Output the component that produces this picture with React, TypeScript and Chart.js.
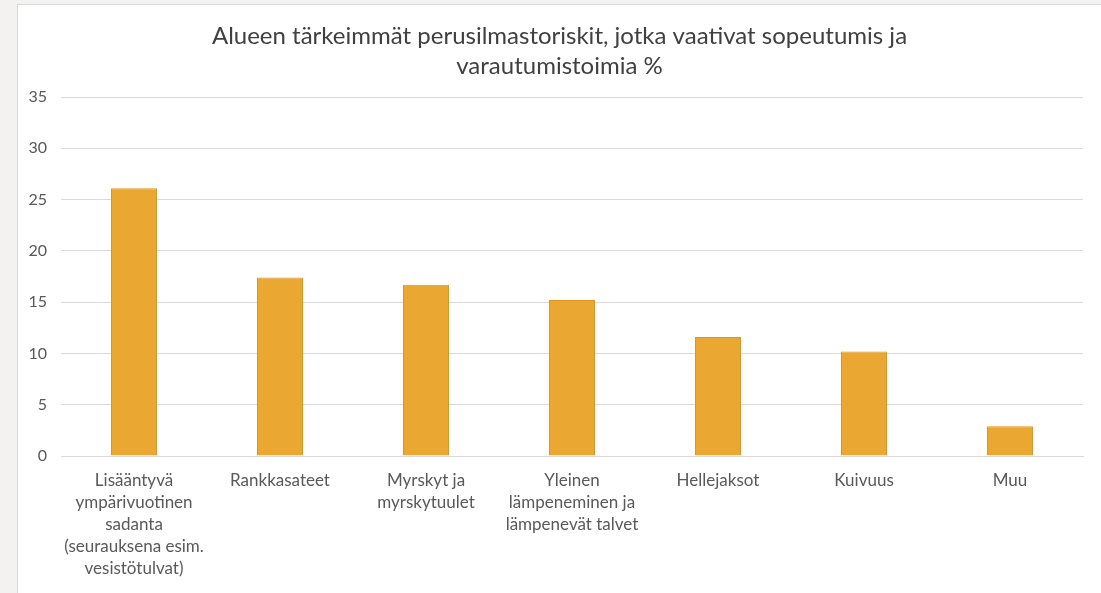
import React, { useEffect, useRef } from "react";
import { Chart, registerables } from "chart.js";

Chart.register(...registerables);

const titleLines = [
  "Alueen tärkeimmät perusilmastoriskit, jotka vaativat sopeutumis ja",
  "varautumistoimia %",
];

const categories: (string | string[])[] = [
  ["Lisääntyvä", "ympärivuotinen", "sadanta", "(seurauksena esim.", "vesistötulvat)"],
  "Rankkasateet",
  ["Myrskyt ja", "myrskytuulet"],
  ["Yleinen", "lämpeneminen ja", "lämpenevät talvet"],
  "Hellejaksot",
  "Kuivuus",
  "Muu",
];

const values = [26.1, 17.4, 16.7, 15.2, 11.6, 10.2, 2.9];

const yMin = 0;
const yMax = 35;
const yStep = 5;

const shiftTitle = {
  id: "shiftTitle",
  afterLayout(chart: any) {
    const t = chart.titleBlock;
    if (t) {
      t.left = 18;
    }
  },
};

export default function App() {
  const ref = useRef<HTMLCanvasElement | null>(null);

  useEffect(() => {
    document.body.style.margin = "0";
    if (!ref.current) return;
    const chart = new Chart(ref.current, {
      type: "bar",
      data: {
        labels: categories,
        datasets: [
          {
            data: values,
            backgroundColor: "#EAA731",
            borderColor: "#E0961C",
            borderWidth: 1,
            categoryPercentage: 1,
            barPercentage: 0.315,
          },
        ],
      },
      options: {
        animation: false,
        responsive: false,
        maintainAspectRatio: false,
        layout: { padding: { left: 0, right: 18, top: 0, bottom: 0 } },
        plugins: {
          legend: { display: false },
          tooltip: { enabled: false },
          title: {
            display: true,
            text: titleLines,
            color: "#404040",
            font: { family: "Lato", size: 24, weight: "normal", lineHeight: 1.25 },
            padding: { top: 16, bottom: 16 },
          },
        },
        scales: {
          x: {
            grid: { display: false, drawTicks: false },
            border: { display: true, color: "#D9D9D9", width: 1 },
            ticks: {
              color: "#595959",
              font: { family: "Lato", size: 17, lineHeight: 1.3 },
              padding: 13,
              maxRotation: 0,
              autoSkip: false,
            },
            afterFit: (axis: any) => {
              axis.height = 137;
            },
          },
          y: {
            min: yMin,
            max: yMax,
            grid: { color: "#D9D9D9", lineWidth: 1, drawTicks: false },
            border: { display: false },
            ticks: {
              stepSize: yStep,
              color: "#595959",
              font: { family: "Lato", size: 16 },
              padding: 14,
            },
            afterFit: (axis: any) => {
              axis.width = 43;
            },
          },
        },
      },
      plugins: [shiftTitle],
    });
    return () => chart.destroy();
  }, []);

  return (
    <div
      style={{
        position: "absolute",
        left: 0,
        top: 0,
        width: 1101,
        height: 593,
        background: "#F3F2F1",
        overflow: "hidden",
      }}
    >
      <div
        style={{
          position: "absolute",
          left: 17,
          top: 4,
          width: 1101 - 17,
          height: 593 - 4,
          background: "#FFFFFF",
          border: "1px solid #D9D9D9",
          borderRight: "none",
          borderBottom: "none",
          boxSizing: "border-box",
        }}
      >
        <canvas ref={ref} width={1083} height={588} style={{ display: "block" }} />
      </div>
    </div>
  );
}
